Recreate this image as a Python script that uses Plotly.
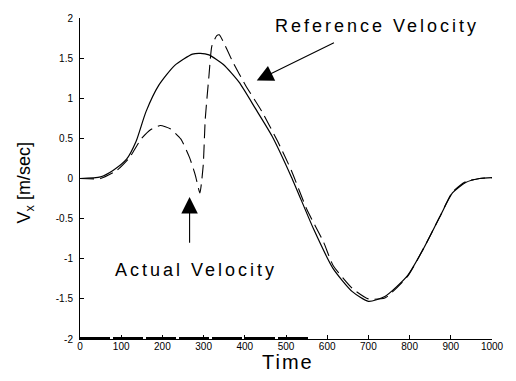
import plotly.graph_objects as go

# Reference velocity (solid)
ref_t = [0, 50, 80, 113, 136, 160, 191, 230, 273, 292, 313, 348, 386, 426, 466, 513, 567, 614, 661, 700, 740, 795, 833, 873, 904, 936, 970, 1000]
ref_v = [0, 0.02, 0.1, 0.24, 0.46, 0.83, 1.16, 1.41, 1.55, 1.56, 1.54, 1.42, 1.20, 0.87, 0.53, 0.02, -0.63, -1.12, -1.41, -1.53, -1.47, -1.21, -0.88, -0.48, -0.18, -0.05, 0.0, 0.01]

# Actual velocity (dashed)
act_t = [0, 50, 89, 120, 148, 172, 195, 219, 245, 266, 280, 291, 299, 304, 313, 320, 332, 338, 372, 402, 442, 480, 513, 551, 591, 614, 661, 700, 740, 795, 833, 873, 904, 936, 970, 1000]
act_v = [0, 0.0, 0.1, 0.26, 0.49, 0.61, 0.66, 0.62, 0.49, 0.26, 0.04, -0.18, 0.16, 0.74, 1.28, 1.65, 1.78, 1.79, 1.44, 1.16, 0.83, 0.46, 0.1, -0.39, -0.79, -1.08, -1.37, -1.50, -1.49, -1.22, -0.88, -0.48, -0.17, -0.04, 0.0, 0.01]

# Heavy dashed trace along the bottom edge
base_t = [0, 560]
base_v = [-2, -2]

x_ticks = [0, 100, 200, 300, 400, 500, 600, 700, 800, 900, 1000]
y_ticks = [-2, -1.5, -1, -0.5, 0, 0.5, 1, 1.5, 2]
y_labels = ["-2", "-1.5", "-1", "-0.5", "0", "0.5", "1", "1.5", "2"]

FONT = "Liberation Sans, Arial, sans-serif"

fig = go.Figure()
fig.add_trace(go.Scatter(x=ref_t, y=ref_v, mode="lines", line=dict(color="black", width=1.2, shape="spline", smoothing=0.6)))
fig.add_trace(go.Scatter(x=act_t, y=act_v, mode="lines", line=dict(color="black", width=1.1, dash="14px,6px", shape="spline", smoothing=0.5)))
fig.add_trace(go.Scatter(x=base_t, y=base_v, mode="lines", line=dict(color="black", width=4, dash="30px,3px")))

fig.update_layout(
    width=516, height=381,
    margin=dict(l=80, r=12, t=14, b=42),
    paper_bgcolor="white", plot_bgcolor="white",
    showlegend=False,
    font=dict(family=FONT, color="black"),
    xaxis=dict(range=[0, 1000], tickvals=x_ticks, ticks="inside", ticklen=4, tickcolor="black",
               showline=True, linecolor="black", linewidth=1, showgrid=False, zeroline=False,
               tickfont=dict(size=10, family=FONT, color="black"), ticklabelstandoff=-2),
    yaxis=dict(range=[-2, 2], tickvals=y_ticks, ticktext=y_labels, ticks="inside", ticklen=4, tickcolor="black",
               showline=True, linecolor="black", linewidth=1, showgrid=False, zeroline=False,
               tickfont=dict(size=10, family=FONT, color="black"), ticklabelstandoff=4),
)

sp = '<span style="letter-spacing:3px">{}</span>'
fig.add_annotation(x=722, y=1.905, xref="x", yref="y", text=sp.format("Reference Velocity"),
                   showarrow=False, xanchor="center", yanchor="middle", font=dict(size=18, family=FONT, color="black"))
fig.add_annotation(x=281, y=-1.14, xref="x", yref="y", text=sp.format("Actual Velocity"),
                   showarrow=False, xanchor="center", yanchor="middle", font=dict(size=18, family=FONT, color="black"))
fig.add_annotation(x=0.505, y=-0.0708, xref="paper", yref="paper", text='<span style="letter-spacing:2px">Time</span>',
                   showarrow=False, xanchor="center", yanchor="middle", font=dict(size=20, family=FONT, color="black"))
fig.add_annotation(x=-0.130, y=0.486, xref="paper", yref="paper", text="V<sub>x</sub> [m/sec]", textangle=-90,
                   showarrow=False, xanchor="center", yanchor="middle", font=dict(size=18, family=FONT, color="black"))

# arrows
fig.add_annotation(x=429, y=1.22, ax=620, ay=1.70, xref="x", yref="y", axref="x", ayref="y",
                   text="", showarrow=True, arrowhead=2, arrowsize=3, arrowwidth=1.1, arrowcolor="black")
fig.add_annotation(x=266, y=-0.23, ax=266, ay=-0.82, xref="x", yref="y", axref="x", ayref="y",
                   text="", showarrow=True, arrowhead=2, arrowsize=3, arrowwidth=1.1, arrowcolor="black")

fig.write_html("out.html")
